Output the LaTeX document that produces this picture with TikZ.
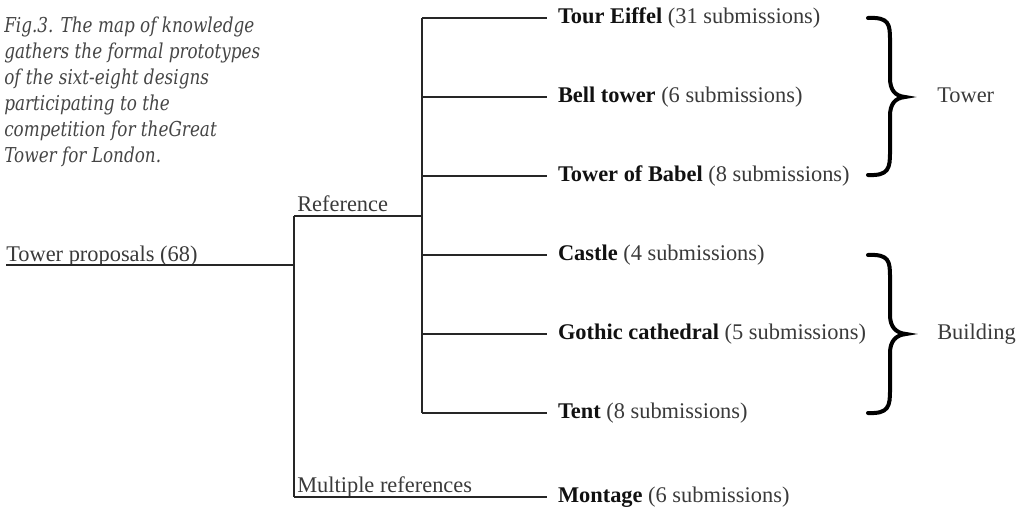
\documentclass[tikz,border=0pt]{standalone}
\usepackage{fontspec}
\setmainfont{Liberation Serif}
\newfontfamily\treefont{Liberation Serif}
\newfontfamily\capfont[FakeStretch=0.82]{DejaVu Serif}
\definecolor{linec}{HTML}{262626}
\definecolor{labc}{HTML}{111111}
\definecolor{cntc}{HTML}{3A3A3A}
\definecolor{capc}{HTML}{454545}
\begin{document}
\begin{tikzpicture}[x=0.75pt,y=-0.75pt,
  tree/.style={line width=1.6pt, draw=linec},
  bracestyle/.style={line width=3pt, draw=black, line cap=round},
  lab/.style={anchor=west, inner sep=0pt, outer xsep=8.25pt, text=labc,
    font=\treefont\fontsize{16.8}{20}\selectfont},
  grp/.style={anchor=base west, inner sep=0pt, text=cntc,
    font=\treefont\fontsize{16.8}{20}\selectfont},
  captext/.style={anchor=base west, inner sep=0pt, text=capc, align=left,
    font=\capfont\itshape\fontsize{15.4}{19.5}\selectfont}]
\useasboundingbox (0,0) rectangle (1031,507);
\newcommand{\cnt}[1]{\textcolor{cntc}{#1}}

% caption (anchored at the baseline of its last line)
\node[captext] (caption) at (4,162) {Fig.3. The map of knowledge\\gathers the formal prototypes\\of the sixt-eight designs\\participating to the\\competition for theGreat\\Tower for London.};

% root
\node[grp] (root) at (6,261) {Tower proposals (68)};
\coordinate (rootL) at (6,265);
\coordinate (j0) at (294,265);
\draw[tree] (rootL) -- (j0);

% first level
\coordinate (jRef) at (294,216);
\coordinate (jMul) at (294,497);
\draw[tree] (jRef) -- (jMul);
\coordinate (vTop) at (422,18);
\coordinate (vBot) at (422,413);
\draw[tree] (jRef) -- (jRef -| vTop);
\node[grp] (refl) at (297,211) {Reference};
\node[grp] (mull) at (297,492) {Multiple references};

% second level
\draw[tree] (vTop) -- (vBot);
\node[lab] (eiffel) at (547,18) {\textbf{Tour Eiffel} \cnt{(31 submissions)}};
\node[lab] (bell) at (547,97) {\textbf{Bell tower} \cnt{(6 submissions)}};
\node[lab] (babel) at (547,176) {\textbf{Tower of Babel} \cnt{(8 submissions)}};
\node[lab] (castle) at (547,255) {\textbf{Castle} \cnt{(4 submissions)}};
\node[lab] (gothic) at (547,334) {\textbf{Gothic cathedral} \cnt{(5 submissions)}};
\node[lab] (tent) at (547,413) {\textbf{Tent} \cnt{(8 submissions)}};
\node[lab] (montage) at (547,497) {\textbf{Montage} \cnt{(6 submissions)}};
\foreach \n in {eiffel,bell,babel,castle,gothic,tent}
  \draw[tree] (\n.west -| vTop) -- (\n.west);
\draw[tree] (jMul) -- (montage.west);

% braces
\coordinate (b1t) at (868,18);
\coordinate (b1b) at (868,175);
\coordinate (b1p) at (905,97);
\draw[bracestyle] (b1t) .. controls (889,17) and (890,24) .. (890,40) -- (890,78)
  .. controls (890,90) and (895,96) .. (b1p)
  .. controls (895,98) and (890,104) .. (890,116) -- (890,152)
  .. controls (890,168) and (889,176) .. (b1b);
\coordinate (b2t) at (868,255);
\coordinate (b2b) at (868,413);
\coordinate (b2p) at (906,334);
\draw[bracestyle] (b2t) .. controls (889,254) and (890,261) .. (890,277) -- (890,315)
  .. controls (890,327) and (896,333) .. (b2p)
  .. controls (896,335) and (890,341) .. (890,353) -- (890,390)
  .. controls (890,406) and (889,414) .. (b2b);
\node[grp] (tower) at (937,102) {Tower};
\node[grp] (building) at (937,339) {Building};
\end{tikzpicture}
\end{document}
